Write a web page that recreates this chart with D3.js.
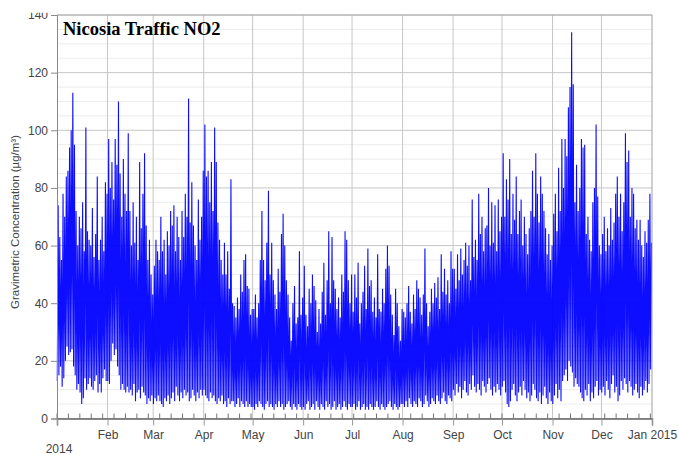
<!DOCTYPE html>
<html><head><meta charset="utf-8">
<script src="https://cdn.jsdelivr.net/npm/d3@7"></script>
<style>body{margin:0;background:#fff}svg{display:block}</style>
</head><body>
<svg id="chart" width="678" height="455"></svg>
<script>
// ---- data (daily max / min of hourly NO2, µg/m³) ----
const maxJan = [74,63,55,78,70,84,86,94,100,113,95,72,60,70,66,75,58,101,65,62,60,73,56,64,84,55,62,70,58,82,78];
const minJan = [13,15,18,11,14,20,25,22,23,24,18,15,10,12,9,5,7,14,10,12,14,11,10,13,15,9,12,9,14,17,13];
const maxFeb = [97,80,89,76,97,88,110,85,70,90,78,72,99,72,60,75,61,70,55,89,66,78,92,67,55,62,50,43];
const minFeb = [13,12,20,26,22,24,18,15,10,12,10,9,11,9,10,8,12,6,9,10,7,11,9,8,5,7,6,8];
const maxMar = [53,62,58,55,70,58,62,50,65,60,72,67,74,58,70,63,55,72,63,78,70,111,68,82,67,60,55,76,62,70,86];
const minMar = [5,7,6,8,6,5,4,7,6,8,5,7,9,6,11,8,6,9,7,10,8,9,6,7,10,8,6,9,7,10,8];
const maxApr = [102,84,86,75,89,72,101,89,68,62,55,50,61,50,58,45,83,40,39,35,42,38,50,44,55,57,46,45,36,38];
const minApr = [10,8,7,6,9,7,8,6,5,7,6,8,5,6,4,7,5,6,6,4,5,7,4,6,5,4,6,4,5,4];
const maxMay = [38,43,35,40,55,72,55,48,61,79,50,61,48,43,38,52,44,64,71,60,48,43,35,27,40,46,33,35,58,36,42];
const minMay = [4,3,5,4,6,5,4,3,5,6,4,5,4,3,5,4,6,4,5,3,4,5,6,4,3,5,4,3,5,4,3];
const maxJun = [53,36,32,45,40,50,46,41,30,38,33,44,54,36,48,65,40,63,48,45,38,42,35,50,44,65,62,48,40,50];
const minJun = [4,3,5,6,3,4,5,3,6,4,3,5,4,3,6,4,5,3,4,6,3,4,5,3,4,6,4,3,5,4];
const maxJul = [37,50,42,54,33,40,44,53,38,59,46,48,37,42,35,57,38,37,45,40,52,60,53,43,36,29,45,40,32,27,38];
const minJul = [4,5,3,4,6,3,4,5,3,4,3,5,4,3,4,6,4,3,5,4,3,4,5,6,4,3,5,4,3,4,5];
const maxAug = [37,35,40,46,37,33,43,38,48,45,42,36,43,59,40,32,37,45,40,47,42,49,38,57,44,52,43,48,40,58,52];
const minAug = [5,4,6,4,7,5,4,6,5,4,7,6,4,5,8,6,4,5,7,6,5,8,6,5,7,9,6,5,8,7,6];
const maxSep = [52,45,57,48,59,50,55,61,53,60,48,76,56,62,55,78,64,70,58,66,67,80,60,75,61,74,58,76,65,70];
const minSep = [10,8,12,9,11,7,10,13,9,8,12,10,15,11,9,12,10,8,13,11,9,12,14,10,8,11,9,12,10,8];
const maxOct = [92,70,83,76,90,64,78,69,84,64,72,76,60,70,64,57,66,72,86,70,92,78,68,84,78,72,66,57,64,55,60];
const minOct = [11,13,9,5,4,6,10,12,8,6,9,11,8,13,10,7,9,6,8,12,10,7,6,9,5,8,11,7,5,9,6];
const maxNov = [71,78,65,87,72,97,80,97,91,108,115,134,116,75,88,72,80,97,94,95,64,70,62,58,75,80,102,77,60,57];
const minNov = [5,8,12,7,10,6,13,15,17,13,20,18,16,11,14,12,11,9,7,6,10,8,12,6,9,7,11,13,8,10];
const maxDec = [64,70,58,66,60,73,62,68,78,84,70,78,65,75,99,89,93,70,80,78,66,69,62,69,60,56,65,61,69,78,61];
const minDec = [9,11,8,13,10,7,12,15,9,11,6,8,13,10,14,12,9,13,11,8,10,12,9,7,11,8,10,13,9,12,17];

const dailyMax = [].concat(maxJan,maxFeb,maxMar,maxApr,maxMay,maxJun,maxJul,maxAug,maxSep,maxOct,maxNov,maxDec);
const dailyMin = [].concat(minJan,minFeb,minMar,minApr,minMay,minJun,minJul,minAug,minSep,minOct,minNov,minDec);

const monthLabels = ["","Feb","Mar","Apr","May","Jun","Jul","Aug","Sep","Oct","Nov","Dec","Jan 2015"];
const yTicks = [0,20,40,60,80,100,120,140];
const titleText = "Nicosia Traffic NO2";
const yTitle = "Gravimetric Concentration (µg/m³)";

// ---- layout ----
const L = 57, R = 652, T = 15, B = 418.5;
const svg = d3.select("#chart");
const start = new Date(2014,0,1), end = new Date(2015,0,1);
const x = d3.scaleTime().domain([start,end]).range([L,R]);
const y = d3.scaleLinear().domain([0,140]).range([B,T]);
const font = "'Liberation Sans', Arial, Helvetica, sans-serif";

// series points: a night low and a daytime peak for each day
const points = [];
dailyMax.forEach((mx,i)=>{
  points.push({t:new Date(2014,0,1+i,4), v:dailyMin[i]});
  points.push({t:new Date(2014,0,1+i,17), v:mx});
});

// minor horizontal grid
const minorY = d3.range(0,141,5).filter(v=>v%20!==0);
svg.append("g").selectAll("line").data(minorY).join("line")
  .attr("x1",L).attr("x2",R).attr("y1",d=>y(d)).attr("y2",d=>y(d))
  .attr("stroke","#ececec").attr("stroke-width",1);
// major horizontal grid
svg.append("g").selectAll("line").data(yTicks).join("line")
  .attr("x1",L).attr("x2",R).attr("y1",d=>y(d)).attr("y2",d=>y(d))
  .attr("stroke","#c6c6c6").attr("stroke-width",1);
// month grid
const months = d3.timeMonth.range(start, d3.timeDay.offset(end,1));
svg.append("g").selectAll("line").data(months.slice(1,12)).join("line")
  .attr("x1",d=>x(d)).attr("x2",d=>x(d)).attr("y1",T).attr("y2",B)
  .attr("stroke","#c6c6c6").attr("stroke-width",1);

// data line
const line = d3.line().x(d=>x(d.t)).y(d=>y(d.v));
svg.append("path").datum(points)
  .attr("d",line).attr("fill","none")
  .attr("stroke","#0000ff").attr("stroke-width",1.1).attr("stroke-opacity",0.95)
  .attr("stroke-linejoin","bevel");

// border top/right
svg.append("line").attr("x1",L).attr("x2",R).attr("y1",T).attr("y2",T).attr("stroke","#a8a8a8");
svg.append("line").attr("x1",R).attr("x2",R).attr("y1",T).attr("y2",B).attr("stroke","#a0a0a0");

// weekly minor ticks on bottom (inside)
const weeks = d3.range(0,366,7).map(d=>d3.timeDay.offset(start,d));
svg.append("g").selectAll("line").data(weeks).join("line")
  .attr("x1",d=>x(d)).attr("x2",d=>x(d)).attr("y1",B).attr("y2",B-5)
  .attr("stroke","#777").attr("stroke-width",1);

// clip for the cut-off top label (in the axis group's local coordinates)
svg.append("defs").append("clipPath").attr("id","yclip")
  .append("rect").attr("x",-L).attr("y",12.7).attr("width",L+5).attr("height",455);

// y axis
const yAxis = svg.append("g").attr("transform",`translate(${L},0)`).attr("clip-path","url(#yclip)")
  .call(d3.axisLeft(y).tickValues(yTicks).tickSize(6).tickPadding(3));
yAxis.select(".domain").attr("stroke","#888");
yAxis.selectAll(".tick line").attr("stroke","#888");
yAxis.selectAll("text").attr("font-family",font).attr("font-size",12).attr("fill","#444");

// x axis
const xAxis = svg.append("g").attr("transform",`translate(0,${B})`)
  .call(d3.axisBottom(x).tickValues(months).tickSize(7).tickPadding(5)
    .tickFormat((d,i)=>monthLabels[i]));
xAxis.select(".domain").attr("stroke","#666").attr("stroke-width",1.5);
xAxis.selectAll(".tick line").attr("stroke","#999");
xAxis.selectAll("text").attr("font-family",font).attr("font-size",12).attr("fill","#444");

// year label under first tick
svg.append("text").attr("x",x(start)+2).attr("y",453).attr("text-anchor","middle")
  .attr("font-family",font).attr("font-size",12).attr("fill","#444").text("2014");

// y title
svg.append("text").attr("transform","translate(19,222) rotate(-90)")
  .attr("text-anchor","middle").attr("font-family",font).attr("font-size",11.5)
  .attr("fill","#444").text(yTitle);

// chart title
svg.append("text").attr("x",63).attr("y",35)
  .attr("font-family","'Liberation Serif','Times New Roman',serif").attr("font-weight","bold")
  .attr("font-size",18.5).attr("fill","#000").text(titleText);
</script>
</body></html>
